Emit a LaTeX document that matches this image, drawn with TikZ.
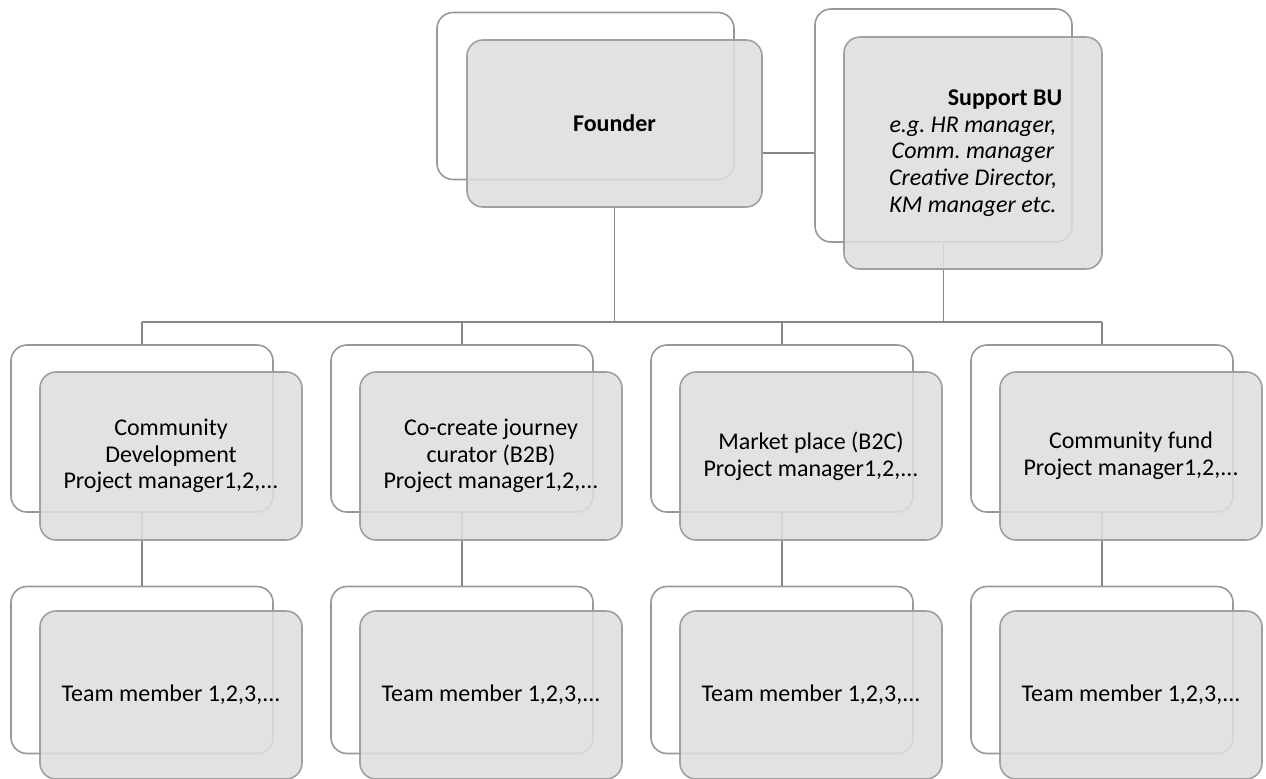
\documentclass[tikz,border=0pt]{standalone}
\usepackage{fontspec}
\setmainfont{Carlito}
\frenchspacing
\definecolor{frameline}{HTML}{989898}
\definecolor{boxline}{HTML}{A0A0A0}
\definecolor{boxfill}{HTML}{DEDEDE}
\definecolor{linkline}{HTML}{878787}
\tikzset{
  backbox/.style={draw=frameline, line width=0.8pt, rounded corners=8pt,
    minimum width=131pt, minimum height=83.5pt, inner sep=0pt},
  frontbox/.style={draw=boxline, line width=0.8pt, rounded corners=8pt,
    fill=boxfill, fill opacity=0.88, text opacity=1,
    minimum width=131pt, minimum height=84pt, inner sep=0pt,
    align=center, font=\fontsize{12pt}{13.3pt}\selectfont},
  link/.style={draw=linkline, line width=0.9pt}
}
\begin{document}
\begin{tikzpicture}[x=0.5pt, y=-0.5pt]
      \useasboundingbox (0,0) rectangle (1266,778);
      % back frames
      \draw
        (585.5,96) node[backbox, minimum width=148.5pt] (fB){}
        (943.5,125.5) node[backbox, minimum width=128.5pt, minimum height=116.5pt] (sB){}
        (142,428.5) node[backbox] (p1B){}
        (462,428.5) node[backbox] (p2B){}
        (782,428.5) node[backbox] (p3B){}
        (1102,428.5) node[backbox] (p4B){}
        (142,670) node[backbox] (t1B){}
        (462,670) node[backbox] (t2B){}
        (782,670) node[backbox] (t3B){}
        (1102,670) node[backbox] (t4B){};
      \coordinate (bus) at (0,322);
      \begin{scope}[link]
        \draw (p1B.north |- bus) -- (p4B.north |- bus);
        \draw (614.5,207) -- (614.5,207 |- bus);
        \draw (sB.south) -- (sB.south |- bus);
        \draw (762,153) -- (sB.west |- 0,153);
        \draw (p1B.north |- bus) -- (p1B.north);
        \draw (p2B.north |- bus) -- (p2B.north);
        \draw (p3B.north |- bus) -- (p3B.north);
        \draw (p4B.north |- bus) -- (p4B.north);
        \draw (p1B.south) -- (t1B.north);
        \draw (p2B.south) -- (t2B.north);
        \draw (p3B.south) -- (t3B.north);
        \draw (p4B.south) -- (t4B.north);
      \end{scope}
      % front boxes
      \draw
        (614.5,123.5) node[frontbox, minimum width=147.5pt, minimum height=83.5pt] (f){\textbf{Founder}}
        (973,153) node[frontbox, minimum width=129pt, minimum height=116pt] (s){\hspace*{32pt}\textbf{Support BU}\\
          \textit{e.g. HR manager,}\\ \textit{Comm. manager}\\ \textit{Creative Director,}\\ \textit{KM manager etc.}}
        (171,456) node[frontbox] (p1){Community\\ Development\\ Project manager1,2,...}
        (491,456) node[frontbox] (p2){Co-create journey\\ curator (B2B)\\ Project manager1,2,...}
        (811,456) node[frontbox] (p3){Market place (B2C)\\ Project manager1,2,...}
        (1131,456) node[frontbox] (p4){Community fund\\ Project manager1,2,...}
        (171,695) node[frontbox] (t1){Team member 1,2,3,...}
        (491,695) node[frontbox] (t2){Team member 1,2,3,...}
        (811,695) node[frontbox] (t3){Team member 1,2,3,...}
        (1131,695) node[frontbox] (t4){Team member 1,2,3,...};
\end{tikzpicture}
\end{document}
